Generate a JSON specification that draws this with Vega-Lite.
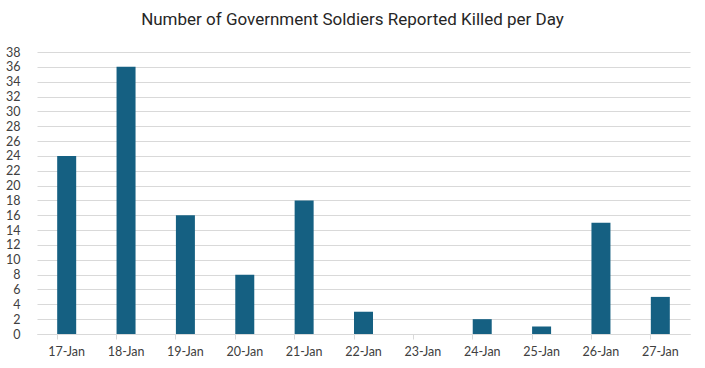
{
  "$schema": "https://vega.github.io/schema/vega-lite/v6.json",
  "width": 653,
  "height": 282,
  "autosize": {"type": "none"},
  "padding": {"left": 37, "top": 52, "right": 15, "bottom": 34},
  "background": "white",
  "title": {
    "text": "Number of Government Soldiers Reported Killed per Day",
    "fontSize": 17,
    "font": "Roboto",
    "fontWeight": "normal",
    "color": "#262626",
    "anchor": "middle",
    "dx": -11,
    "offset": 17
  },
  "data": {
    "values": [
      {"day": "17-Jan", "killed": 24},
      {"day": "18-Jan", "killed": 36},
      {"day": "19-Jan", "killed": 16},
      {"day": "20-Jan", "killed": 8},
      {"day": "21-Jan", "killed": 18},
      {"day": "22-Jan", "killed": 3},
      {"day": "23-Jan", "killed": 0},
      {"day": "24-Jan", "killed": 2},
      {"day": "25-Jan", "killed": 1},
      {"day": "26-Jan", "killed": 15},
      {"day": "27-Jan", "killed": 5}
    ]
  },
  "mark": {"type": "bar", "color": "#156082"},
  "encoding": {
    "x": {
      "field": "day",
      "type": "nominal",
      "sort": null,
      "scale": {"paddingInner": 0.68, "paddingOuter": 0.34},
      "axis": {
        "title": null,
        "labelAngle": 0,
        "labelFont": "Lato",
        "labelFontSize": 12.5,
        "labelColor": "#404040",
        "labelPadding": 6,
        "domainColor": "#d9d9d9",
        "tickColor": "#d9d9d9",
        "tickSize": 5,
        "bandPosition": 0,
        "grid": false
      }
    },
    "y": {
      "field": "killed",
      "type": "quantitative",
      "scale": {"domain": [0, 38], "nice": false},
      "axis": {
        "title": null,
        "values": [0,2,4,6,8,10,12,14,16,18,20,22,24,26,28,30,32,34,36,38],
        "labelFont": "Lato",
        "labelFontSize": 12.5,
        "labelColor": "#404040",
        "labelPadding": 17,
        "domain": false,
        "ticks": false,
        "gridColor": "#d9d9d9",
        "gridWidth": 1
      }
    }
  },
  "config": {"view": {"stroke": null}}
}
